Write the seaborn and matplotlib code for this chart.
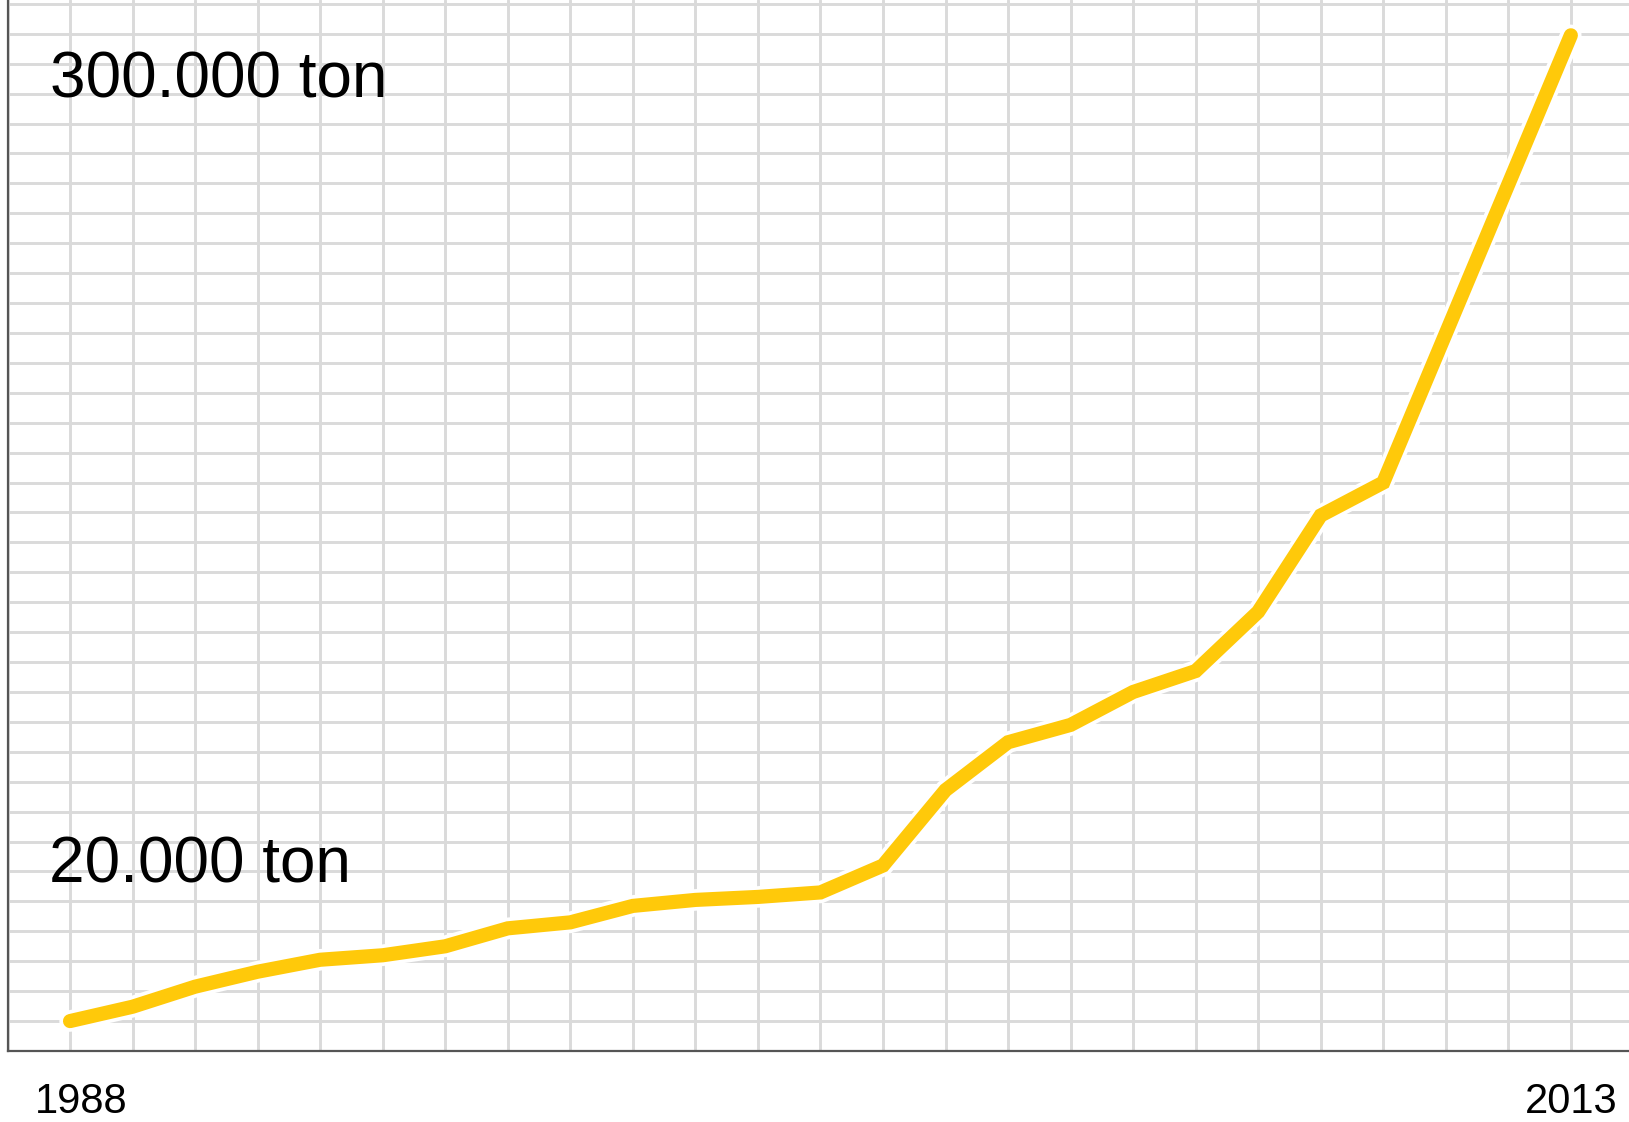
import matplotlib
matplotlib.use("Agg")
import matplotlib.pyplot as plt
import matplotlib.patheffects as pe
import matplotlib.transforms as mtransforms
import seaborn as sns
import pandas as pd

years = [1988, 1989, 1990, 1991, 1992, 1993, 1994, 1995, 1996, 1997, 1998,
         1999, 2000, 2001, 2002, 2003, 2004, 2005, 2006, 2007, 2008, 2009, 2013]
x_step = [0, 1, 2, 3, 4, 5, 6, 7, 8, 9, 10,
          11, 12, 13, 14, 15, 16, 17, 18, 19, 20, 21, 24]
production = [1.0, 1.48, 2.15, 2.65, 3.05, 3.2, 3.5, 4.1, 4.3, 4.85, 5.05,
              5.15, 5.3, 6.2, 8.72, 10.32, 10.9, 12.0, 12.7, 14.68, 17.9, 19.0, 33.95]
tick_labels = ["1988", "2013"]
annotations = ["300.000 ton", "20.000 ton"]

df = pd.DataFrame({"jaar": years, "stap": x_step, "productie": production})

sns.set_style("white")
plt.rcParams['font.family'] = ['Liberation Sans', 'DejaVu Sans']

fig = plt.figure(figsize=(16.29, 11.22), dpi=100)
ax = fig.add_axes([7.5 / 1629, 71 / 1122, 1 - 7.5 / 1629, 1051 / 1122])

sns.lineplot(data=df, x="stap", y="productie", ax=ax, color="#FFC90A",
             linewidth=10.2, solid_capstyle="round", solid_joinstyle="miter",
             zorder=3,
             path_effects=[pe.Stroke(linewidth=15.5, foreground="white"), pe.Normal()])

ax.set_xlim(-1, 24.93)
ax.set_ylim(0, 35.13)

# raster
ax.set_xticks(range(-1, 25), minor=True)
ax.set_xticks([0, 24])
ax.set_xticklabels(tick_labels, fontsize=30, color="black")
ax.set_yticks(range(1, 36))
ax.set_yticklabels([])
ax.grid(True, which="both", color="#dadada", linewidth=2.1, zorder=0)
ax.tick_params(which="both", length=0)
ax.tick_params(axis="x", pad=22)
ax.set_axisbelow(True)
ax.set_xlabel("")
ax.set_ylabel("")

# 1988 label iets naar rechts
lbl = ax.get_xticklabels()[0]
lbl.set_transform(lbl.get_transform() + mtransforms.ScaledTranslation(0.11, 0, fig.dpi_scale_trans))

for s in ["top", "right"]:
    ax.spines[s].set_visible(False)
for s in ["left", "bottom"]:
    ax.spines[s].set_color("#555555")
    ax.spines[s].set_linewidth(1.6)

ax.text(-0.32, 31.87, annotations[0], fontsize=46, va="baseline", ha="left", color="black")
ax.text(-0.34, 5.63, annotations[1], fontsize=46, va="baseline", ha="left", color="black")

fig.savefig("out.png", dpi=100)
